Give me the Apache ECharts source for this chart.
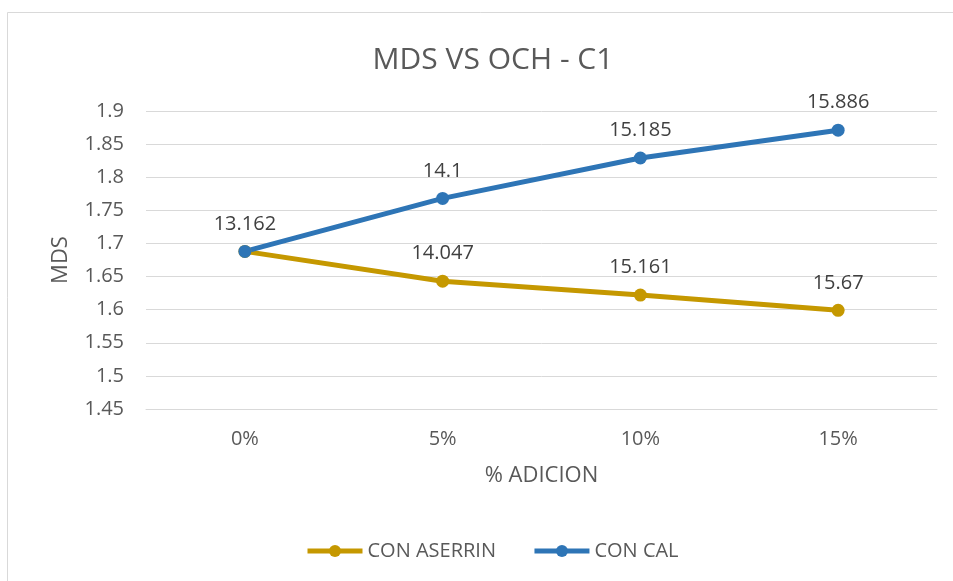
<!DOCTYPE html>
<html>
<head>
<meta charset="utf-8">
<script src="https://cdn.jsdelivr.net/npm/echarts@6/dist/echarts.min.js"></script>
<style>
  html, body { margin: 0; padding: 0; background: #fff; }
  #main { width: 953px; height: 581px; }
</style>
</head>
<body>
<div id="main"></div>
<script>
var categories = ["0%", "5%", "10%", "15%"];
var aserrin = [1.688, 1.643, 1.622, 1.599];
var cal = [1.688, 1.768, 1.829, 1.871];
// etiquetas (OCH) sobre cada punto
var aserrinLabels = ["", "14.047", "15.161", "15.67"];
var calLabels = ["13.162", "14.1", "15.185", "15.886"];

var font = "'Open Sans', 'Noto Sans', sans-serif";
var myChart = echarts.init(document.getElementById("main"));

function makeSeries(name, values, labels, color) {
  return {
    name: name,
    type: "line",
    data: values,
    symbol: "circle",
    symbolSize: 13,
    lineStyle: { width: 5, color: color },
    itemStyle: { color: color },
    label: {
      show: true,
      position: "top",
      distance: 11,
      fontFamily: font,
      fontSize: 20,
      color: "#404040",
      formatter: function (p) { return labels[p.dataIndex]; }
    }
  };
}

var option = {
  animation: false,
  backgroundColor: "#fff",
  graphic: [{
    type: "rect",
    shape: { x: 7.5, y: 12.5, width: 960, height: 600 },
    style: { fill: null, stroke: "#d9d9d9", lineWidth: 1 },
    silent: true
  }],
  title: {
    text: "MDS VS OCH - C1",
    left: 488,
    top: 40,
    textAlign: "center",
    textStyle: { fontFamily: font, fontSize: 30, fontWeight: "normal", color: "#595959" }
  },
  legend: {
    top: 536,
    left: 300,
    itemWidth: 55,
    itemHeight: 15,
    itemGap: 36,
    lineStyle: { width: 5 },
    textStyle: { fontFamily: font, fontSize: 20, color: "#595959" },
    data: ["CON ASERRIN", "CON CAL"]
  },
  grid: { left: 146, right: 16, top: 111, bottom: 172 },
  xAxis: {
    type: "category",
    data: categories,
    name: "% ADICION",
    nameLocation: "middle",
    nameGap: 56,
    nameTextStyle: { fontFamily: font, fontSize: 22, color: "#595959" },
    axisLine: { lineStyle: { color: "#d9d9d9" } },
    axisTick: { show: false },
    axisLabel: { fontFamily: font, fontSize: 20, color: "#595959", margin: 20 }
  },
  yAxis: {
    type: "value",
    min: 1.45,
    max: 1.9,
    interval: 0.05,
    name: "MDS",
    nameLocation: "middle",
    nameGap: 74,
    nameRotate: 90,
    nameTextStyle: { fontFamily: font, fontSize: 22, color: "#595959" },
    axisLine: { show: false },
    axisTick: { show: false },
    axisLabel: {
      fontFamily: font, fontSize: 20, color: "#595959", margin: 22,
      formatter: function (v) { return String(+v.toFixed(2)); }
    },
    splitLine: { lineStyle: { color: "#d9d9d9", width: 1 } }
  },
  series: [
    makeSeries("CON ASERRIN", aserrin, aserrinLabels, "#C59800"),
    makeSeries("CON CAL", cal, calLabels, "#2E75B6")
  ]
};

myChart.setOption(option);
</script>
</body>
</html>
